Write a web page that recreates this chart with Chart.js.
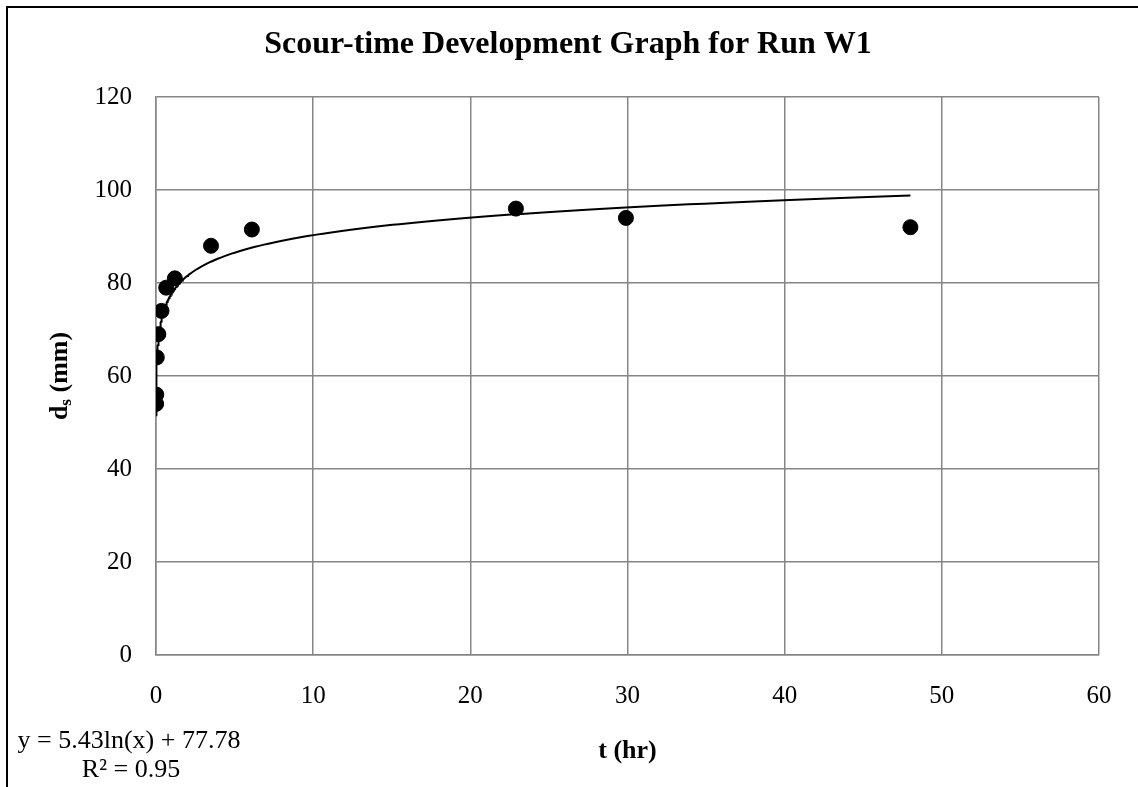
<!DOCTYPE html>
<html lang="en">
<head>
    <meta charset="UTF-8">
    <title>Scour-time Development Graph for Run W1</title>
    <script src="https://cdn.jsdelivr.net/npm/chart.js"></script>
    <style>
        body {
            margin: 0;
            background: white;
        }
        .frame {
            position: relative;
            width: 1138px;
            height: 787px;
            overflow: hidden;
        }
        .frame::before {
            content: '';
            position: absolute;
            left: 6px;
            top: 6px;
            width: 1200px;
            height: 900px;
            border-left: 2px solid black;
            border-top: 2px solid black;
        }
        canvas {
            position: absolute;
            left: 0;
            top: 0;
        }
    </style>
</head>
<body>

<div class="frame">
    <canvas id="scourChart" width="1138" height="787"></canvas>
</div>

<script>
// measured points, t in hours, scour depth in mm
const timeHr = [0.008, 0.017, 0.05, 0.15, 0.35, 0.65, 1.2, 3.5, 6.1, 22.9, 29.9, 48];
const depthMm = [54, 56, 64, 69, 74, 79, 81, 88, 91.5, 96, 94, 92];

// log trendline coefficients as printed on the chart
const trendA = 5.43;
const trendB = 77.78;
const trendR2 = 0.95;

const xTicks = [0, 10, 20, 30, 40, 50, 60];
const yTicks = [0, 20, 40, 60, 80, 100, 120];

const serif = '"Liberation Serif", "Times New Roman", serif';

// trendline drawn between the first and last measured time
const tMin = Math.min(...timeHr);
const tMax = Math.max(...timeHr);
const trendPts = [];
for (let i = 0; i <= 300; i++) {
    const t = tMin * Math.pow(tMax / tMin, i / 300);
    trendPts.push({ x: t, y: trendA * Math.log(t) + trendB });
}

const textPlugin = {
    id: 'texts',
    afterDraw(chart) {
        const ctx = chart.ctx;
        const area = chart.chartArea;
        ctx.save();
        ctx.fillStyle = 'black';

        // title
        ctx.font = 'bold 32px ' + serif;
        ctx.textAlign = 'center';
        ctx.textBaseline = 'middle';
        ctx.fillText('Scour-time Development Graph for Run W1', 568, 45);

        // x axis title
        ctx.font = 'bold 26px ' + serif;
        ctx.fillText('t (hr)', (area.left + area.right) / 2, 751);

        // y axis title with subscript
        ctx.translate(60, 376);
        ctx.rotate(-Math.PI / 2);
        ctx.textAlign = 'left';
        ctx.font = 'bold 26px ' + serif;
        const wD = ctx.measureText('d').width;
        const wRest = ctx.measureText(' (mm)').width;
        ctx.font = 'bold 17px ' + serif;
        const wS = ctx.measureText('s').width;
        const start = -(wD + wS + wRest) / 2;
        ctx.font = 'bold 26px ' + serif;
        ctx.fillText('d', start, 0);
        ctx.font = 'bold 17px ' + serif;
        ctx.fillText('s', start + wD, 7);
        ctx.font = 'bold 26px ' + serif;
        ctx.fillText(' (mm)', start + wD + wS, 0);
        ctx.restore();

        // trendline equation
        ctx.save();
        ctx.fillStyle = 'black';
        ctx.font = '26px ' + serif;
        ctx.textAlign = 'center';
        ctx.textBaseline = 'middle';
        ctx.fillText('y = ' + trendA.toFixed(2) + 'ln(x) + ' + trendB.toFixed(2), 129, 741);
        ctx.fillText('R² = ' + trendR2.toFixed(2), 131, 770);
        ctx.restore();
    }
};

const ctx = document.getElementById('scourChart').getContext('2d');
new Chart(ctx, {
    type: 'scatter',
    data: {
        datasets: [{
            label: 'measured',
            data: timeHr.map((t, i) => ({ x: t, y: depthMm[i] })),
            backgroundColor: 'black',
            borderColor: 'black',
            pointRadius: 7.5,
            order: 1
        }, {
            label: 'trend',
            type: 'line',
            data: trendPts,
            borderColor: 'black',
            borderWidth: 2,
            pointRadius: 0,
            fill: false,
            tension: 0,
            order: 2
        }]
    },
    options: {
        responsive: false,
        animation: false,
        events: [],
        layout: { padding: { left: 0, top: 97, right: 39, bottom: 0 } },
        plugins: {
            legend: { display: false },
            tooltip: { enabled: false }
        },
        scales: {
            x: {
                type: 'linear',
                min: xTicks[0],
                max: xTicks[xTicks.length - 1],
                afterBuildTicks: s => { s.ticks = xTicks.map(v => ({ value: v })); },
                afterFit: s => { s.height = 132; },
                grid: { color: '#868686', lineWidth: 1.5, drawTicks: false },
                border: { color: '#868686', width: 1.5 },
                ticks: {
                    color: 'black',
                    padding: 26,
                    font: { family: serif, size: 25 }
                }
            },
            y: {
                type: 'linear',
                min: yTicks[0],
                max: yTicks[yTicks.length - 1],
                afterBuildTicks: s => { s.ticks = yTicks.map(v => ({ value: v })); },
                afterFit: s => { s.width = 156; },
                grid: { color: '#868686', lineWidth: 1.5, drawTicks: false },
                border: { color: '#868686', width: 1.5 },
                ticks: {
                    color: 'black',
                    padding: 24,
                    font: { family: serif, size: 25 }
                }
            }
        }
    },
    plugins: [textPlugin]
});
</script>

</body>
</html>
